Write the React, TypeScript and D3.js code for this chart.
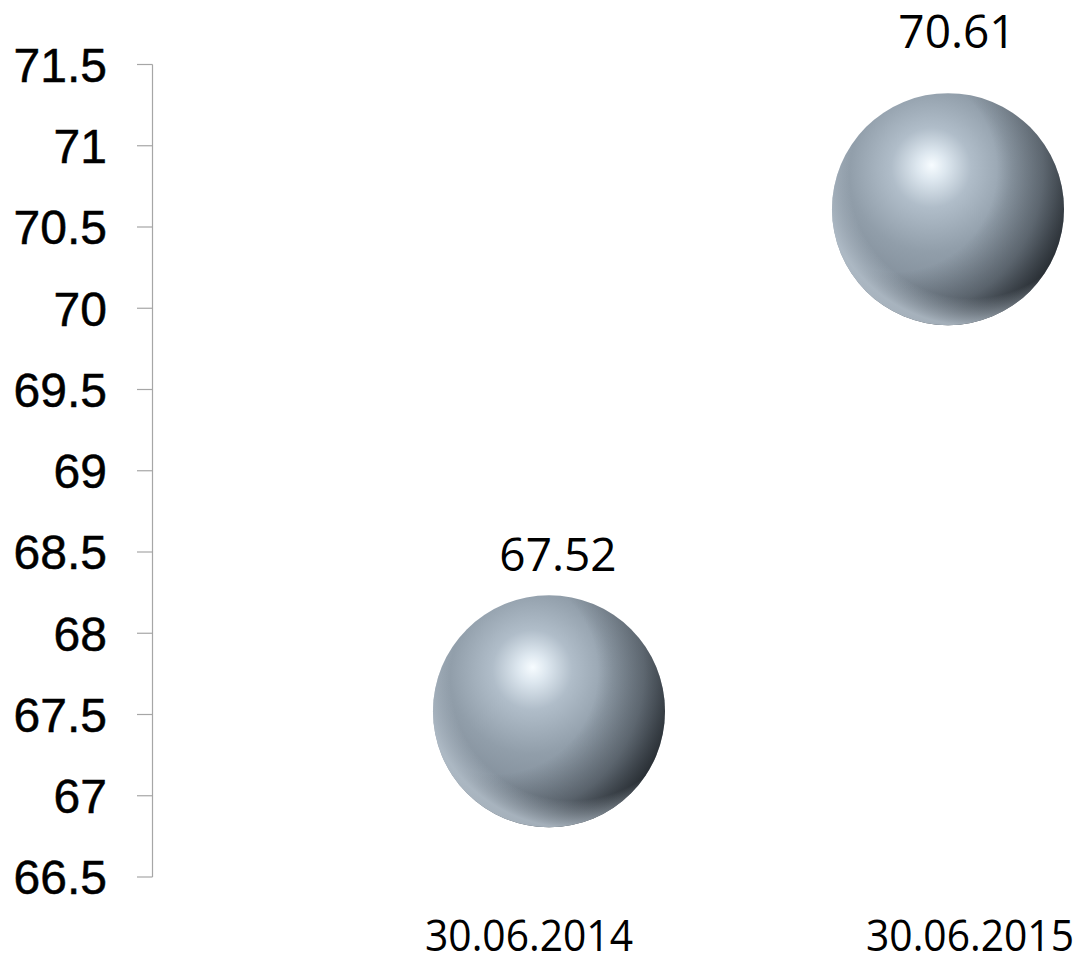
import React from "react";
import * as d3 from "d3";

const categories = ["30.06.2014", "30.06.2015"];
const values = [67.52, 70.61];
const bubbleSizes = [1, 1];
const yTicks = [66.5, 67, 67.5, 68, 68.5, 69, 69.5, 70, 70.5, 71, 71.5];

const W = 1084;
const H = 963;
const labelGaps = [24, 45];

export default function App() {
  const y = d3.scaleLinear().domain([66.5, 71.5]).range([877, 64.5]);
  const x = d3.scalePoint<string>().domain(categories).range([549, 948]);
  const xLabel = d3.scalePoint<string>().domain(categories).range([529, 970]);
  const r = d3.scaleSqrt().domain([0, 1]).range([0, 116]);
  const axisX = 152.5;

  return (
    <svg
      width={W}
      height={H}
      style={{ position: "absolute", left: 0, top: 0, background: "#fff" }}
    >
      <defs>
        <radialGradient id="sphereBase" cx="0.42" cy="0.36" r="0.78" fx="0.43" fy="0.31">
          <stop offset="0" stopColor="#f7fcff" />
          <stop offset="0.08" stopColor="#dde7ef" />
          <stop offset="0.22" stopColor="#b0bdc9" />
          <stop offset="0.45" stopColor="#919eaa" />
          <stop offset="0.7" stopColor="#7f8b97" />
          <stop offset="1" stopColor="#5a636d" />
        </radialGradient>
        <radialGradient id="sphereDark" cx="0.27" cy="0.33" r="0.8">
          <stop offset="0.55" stopColor="#14181c" stopOpacity="0" />
          <stop offset="0.8" stopColor="#14181c" stopOpacity="0.35" />
          <stop offset="1" stopColor="#14181c" stopOpacity="0.8" />
        </radialGradient>
        <radialGradient id="sphereRim" cx="0.6" cy="0.36" r="0.64">
          <stop offset="0.82" stopColor="#b4c0cb" stopOpacity="0" />
          <stop offset="1" stopColor="#b4c0cb" stopOpacity="0.85" />
        </radialGradient>
      </defs>

      {/* Y axis */}
      <line x1={axisX} x2={axisX} y1={y(66.5)} y2={y(71.5)} stroke="#a6a6a6" strokeWidth={1.2} />
      {yTicks.map((t) => (
        <g key={t}>
          <line x1={137} x2={axisX} y1={y(t)} y2={y(t)} stroke="#a6a6a6" strokeWidth={1.2} />
          <text
            x={107}
            y={y(t)}
            dy="0.36em"
            textAnchor="end"
            fontFamily="'Liberation Sans', Arial, sans-serif"
            fontSize={48}
            fill="#000"
            stroke="#000"
            strokeWidth={0.5}
          >
            {String(t)}
          </text>
        </g>
      ))}

      {/* Bubbles */}
      {categories.map((c, i) => {
        const cx = x(c)!;
        const cy = y(values[i]);
        const rr = r(bubbleSizes[i]);
        return (
          <g key={c}>
            <circle cx={cx} cy={cy} r={rr} fill="url(#sphereBase)" />
            <circle cx={cx} cy={cy} r={rr} fill="url(#sphereDark)" />
            <circle cx={cx} cy={cy} r={rr} fill="url(#sphereRim)" />
            <text
              x={cx + 9}
              y={cy - rr - labelGaps[i]}
              textAnchor="middle"
              fontFamily="'Open Sans', sans-serif"
              fontSize={46}
              fill="#000"
            >
              {values[i].toFixed(2)}
            </text>
          </g>
        );
      })}

      {/* Category labels */}
      {categories.map((c) => (
        <text
          key={c}
          x={xLabel(c)!}
          y={951}
          textAnchor="middle"
          fontFamily="'Open Sans', sans-serif"
          fontSize={44}
          textLength={208}
          lengthAdjust="spacingAndGlyphs"
          fill="#000"
        >
          {c}
        </text>
      ))}
    </svg>
  );
}
